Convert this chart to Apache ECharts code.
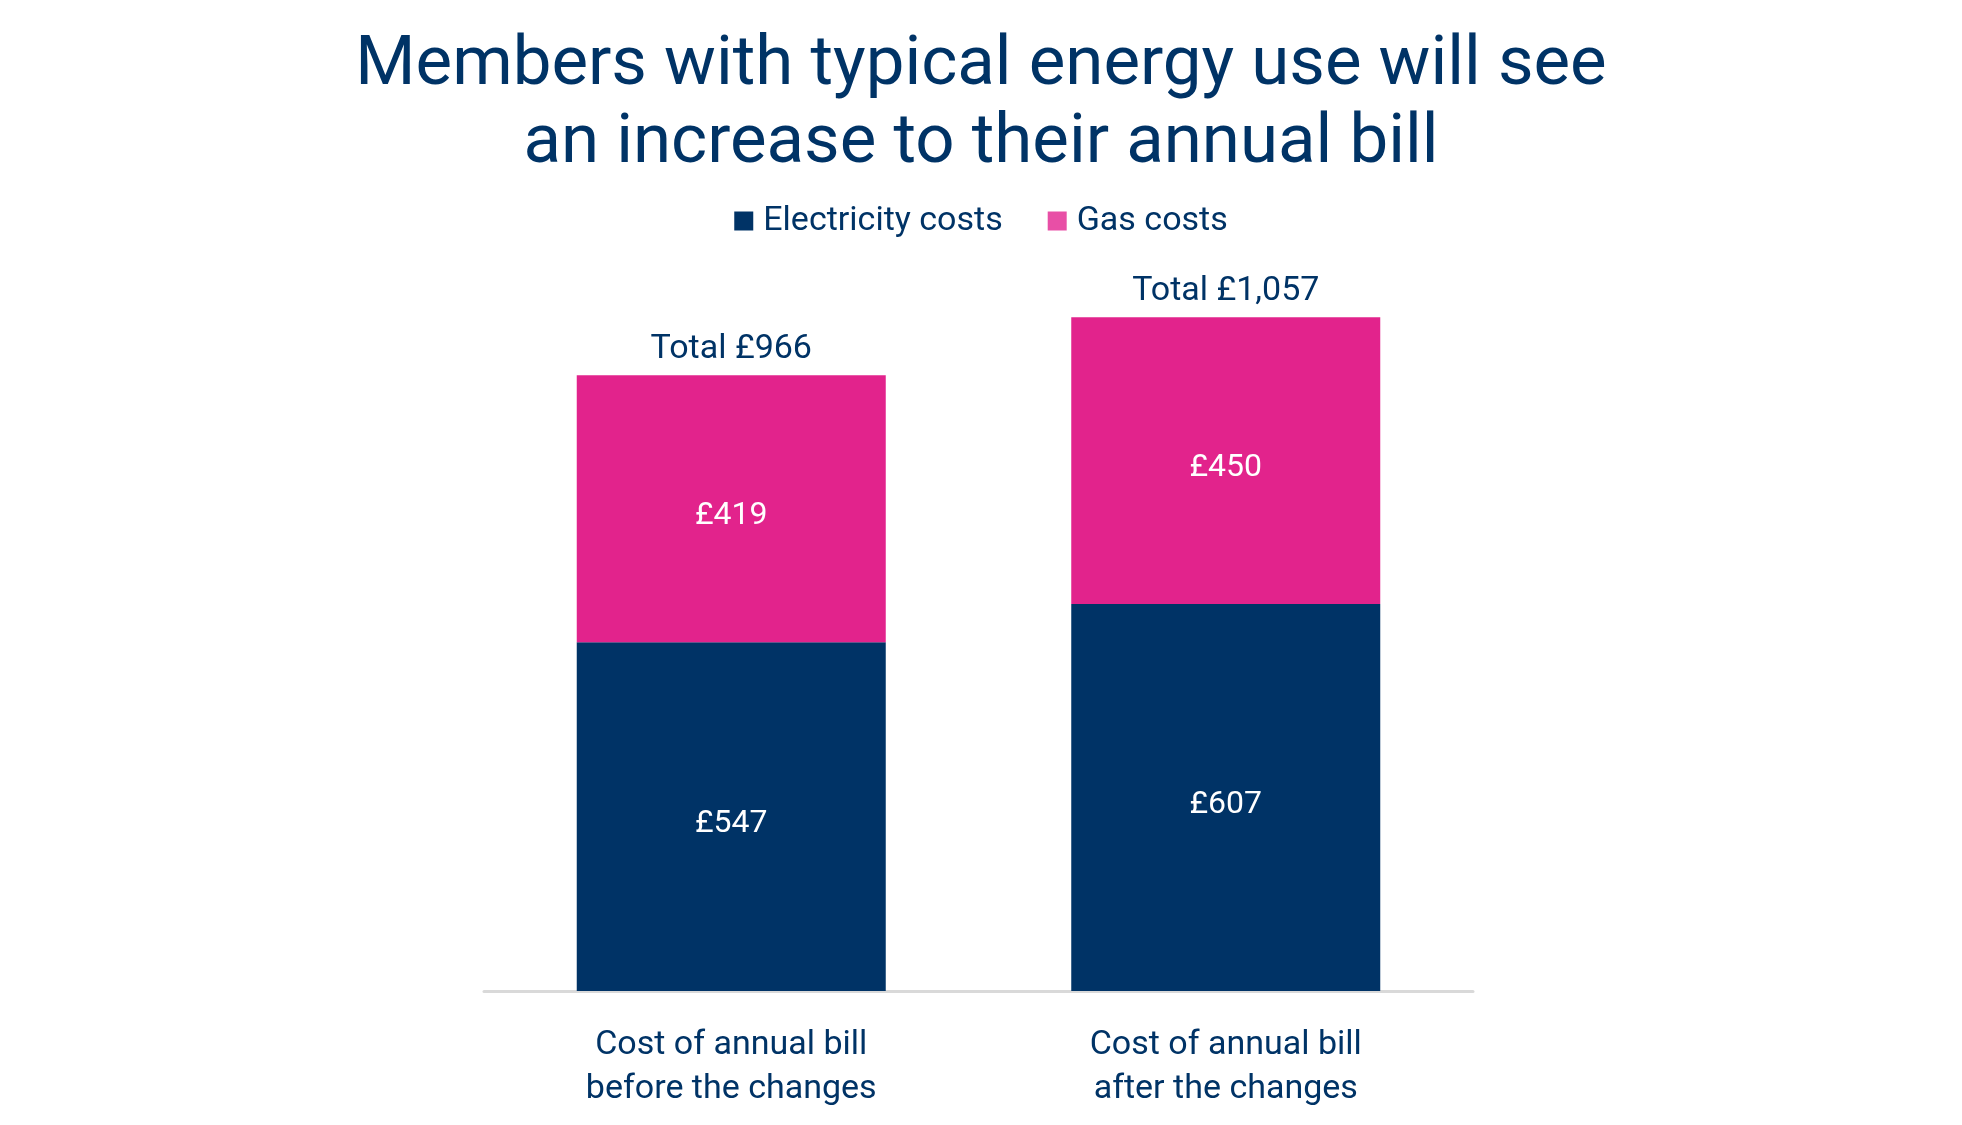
<!DOCTYPE html>
<html>
<head>
<meta charset="utf-8">
<script src="https://cdn.jsdelivr.net/npm/echarts@6/dist/echarts.min.js"></script>
<style>
html,body{margin:0;padding:0;background:#fff;}
#main{width:1962px;height:1125px;}
</style>
</head>
<body>
<div id="main"></div>
<script>
const categories = ['Cost of annual bill\nbefore the changes', 'Cost of annual bill\nafter the changes'];
const electricity = [547, 607];
const gas = [419, 450];
const totals = [966, 1057];

const NAVY = '#003366';
const PINK = '#E2238C';
const FONT = 'Roboto';

const chart = echarts.init(document.getElementById('main'));
chart.setOption({
  backgroundColor: '#ffffff',
  animation: false,
  textStyle: { fontFamily: FONT },
  title: {
    text: 'Members with typical energy use will see\nan increase to their annual bill',
    left: 'center',
    top: 23,
    textStyle: { color: NAVY, fontSize: 69, fontWeight: 'normal', lineHeight: 78, fontFamily: FONT }
  },
  legend: {
    top: 199,
    left: 'center',
    itemWidth: 19,
    itemHeight: 19,
    itemGap: 45,
    icon: 'rect',
    textStyle: { color: NAVY, fontSize: 34, fontFamily: FONT, padding: [0, 0, 0, 5] },
    data: [
      { name: 'Electricity costs', itemStyle: { color: NAVY } },
      { name: 'Gas costs', itemStyle: { color: '#E84FA6' } }
    ]
  },
  grid: { left: 484, right: 489, top: 226, bottom: 134, containLabel: false },
  xAxis: {
    type: 'category',
    data: categories,
    axisLine: { show: true, lineStyle: { color: '#d9d9d9', width: 3 } },
    axisTick: { show: false },
    axisLabel: { color: NAVY, fontSize: 34, lineHeight: 44, margin: 32, fontFamily: FONT }
  },
  yAxis: {
    type: 'value',
    min: 0,
    max: 1200,
    show: false,
    splitLine: { show: false }
  },
  series: [
    {
      name: 'Electricity costs',
      type: 'bar',
      stack: 'total',
      barWidth: 309,
      data: electricity,
      itemStyle: { color: NAVY },
      label: { show: true, position: 'inside', offset: [0, 7], color: '#ffffff', fontSize: 32, fontFamily: FONT, formatter: p => '£' + p.value }
    },
    {
      name: 'Gas costs',
      type: 'bar',
      stack: 'total',
      barWidth: 309,
      data: gas,
      itemStyle: { color: PINK },
      label: { show: true, position: 'inside', offset: [0, 7], color: '#ffffff', fontSize: 32, fontFamily: FONT, formatter: p => '£' + p.value }
    },
    {
      name: 'Total',
      type: 'scatter',
      symbolSize: 0,
      data: totals,
      silent: true,
      itemStyle: { opacity: 1 },
      label: {
        show: true, position: 'top', distance: 9, color: NAVY, opacity: 1, fontSize: 34, fontFamily: FONT,
        formatter: p => 'Total £' + p.value.toLocaleString('en-GB')
      }
    }
  ]
});
</script>
</body>
</html>
